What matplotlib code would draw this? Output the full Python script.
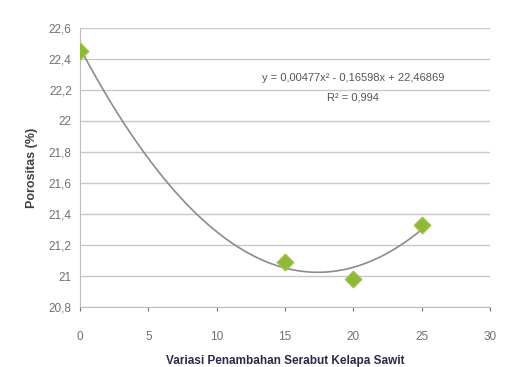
import matplotlib

matplotlib.use("Agg")
import matplotlib.pyplot as plt
import numpy as np
from matplotlib.ticker import FuncFormatter

# data
variasi = [0, 15, 20, 25]
porositas = [22.45, 21.09, 20.98, 21.33]
trend_coef = [0.00477, -0.16598, 22.46869]  # printed trendline
y_ticks = [20.8, 21.0, 21.2, 21.4, 21.6, 21.8, 22.0, 22.2, 22.4, 22.6]
x_ticks = [0, 5, 10, 15, 20, 25, 30]

plt.rcParams["font.family"] = ["Liberation Sans", "DejaVu Sans"]

fig = plt.figure(figsize=(5.1, 3.67), dpi=100)
ax = fig.add_axes([0.157, 0.163, 0.804, 0.761])

x_line = np.linspace(min(variasi), max(variasi), 200)
ax.plot(x_line, np.polyval(trend_coef, x_line), color="#8c8c8c", lw=1.2, zorder=2)
ax.scatter(variasi, porositas, marker="D", s=70, color="#8db83a",
           edgecolors="#9cc24a", zorder=3)

ax.set_xlim(0, 30)
ax.set_ylim(20.8, 22.6)
ax.set_xticks(x_ticks)
ax.set_yticks(y_ticks)


def comma(v, pos):
    s = f"{v:.1f}".rstrip("0").rstrip(".")
    return s.replace(".", ",")


ax.yaxis.set_major_formatter(FuncFormatter(comma))
ax.grid(axis="y", color="#c8c8c8", lw=1)
ax.set_axisbelow(True)
for side in ["top", "right"]:
    ax.spines[side].set_visible(False)
for side in ["left", "bottom"]:
    ax.spines[side].set_color("#bdbdbd")
ax.tick_params(colors="#707070", labelsize=8.5, length=3, width=0.8)
ax.tick_params(axis="x", pad=14)
ax.tick_params(axis="y", length=0, pad=6)

ax.set_ylabel("Porositas (%)", fontsize=9, fontweight="bold", color="#404040", labelpad=8)
ax.set_xlabel("Variasi Penambahan Serabut Kelapa Sawit", fontsize=8.5,
              fontweight="bold", color="#2a2a4a", labelpad=9)

ax.text(20.0, 22.28, "y = 0,00477x² - 0,16598x + 22,46869", ha="center", va="center",
        fontsize=8, color="#555555")
ax.text(20.0, 22.15, "R² = 0,994", ha="center", va="center", fontsize=8, color="#555555")

fig.savefig("out.png", dpi=100, facecolor="white")
